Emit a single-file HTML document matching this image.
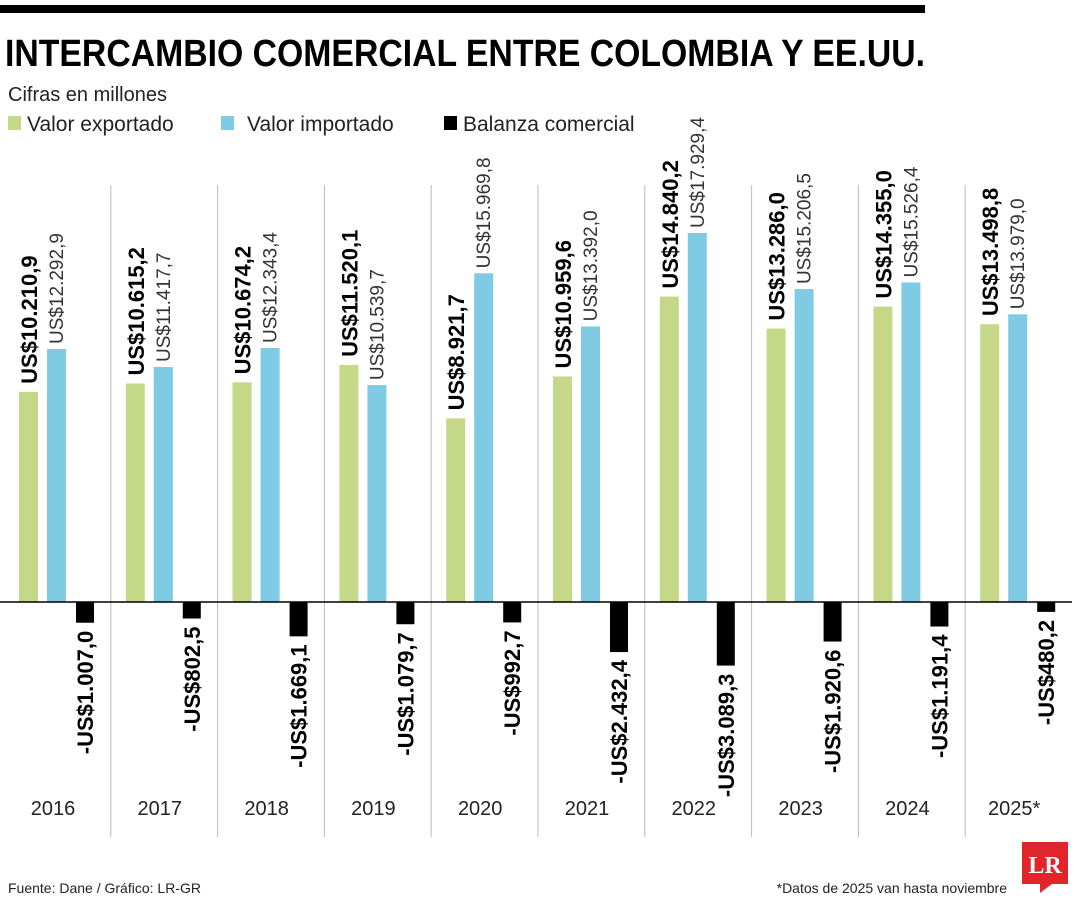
<!DOCTYPE html>
<html><head><meta charset="utf-8"><style>
html,body{margin:0;padding:0;background:#fff}
svg{display:block;font-family:"Liberation Sans",sans-serif}
</style></head><body>
<svg id="chart" width="1080" height="900" viewBox="0 0 1080 900">
<rect x="0" y="5" width="925" height="8" fill="#000"/>
<text x="5" y="66" font-size="38" font-weight="bold" textLength="920" lengthAdjust="spacingAndGlyphs">INTERCAMBIO COMERCIAL ENTRE COLOMBIA Y EE.UU.</text>
<text x="8" y="101" font-size="20" fill="#222">Cifras en millones</text>
<g>
<rect x="8" y="116" width="13" height="14" fill="#c5d887"/>
<text x="27" y="131" font-size="21" fill="#222">Valor exportado</text>
<rect x="221" y="116" width="13" height="14" fill="#7ecbe3"/>
<text x="247" y="131" font-size="21" fill="#222">Valor importado</text>
<rect x="444" y="116" width="13" height="14" fill="#000"/>
<text x="463" y="131" font-size="21" fill="#222">Balanza comercial</text>
</g>
<g id="plot"></g>
<text x="8" y="893" font-size="14" fill="#222">Fuente: Dane / Gráfico: LR-GR</text>
<text x="1007" y="893" font-size="14" fill="#222" text-anchor="end">*Datos de 2025 van hasta noviembre</text>
<g>
<rect x="1022" y="842" width="46" height="42" fill="#e0262b"/>
<polygon points="1040,884 1052,884 1040,893" fill="#e0262b"/>
<text x="1045" y="873" font-size="24" font-weight="bold" fill="#fff" text-anchor="middle" font-family="Liberation Serif,serif">LR</text>
</g>
</svg>
<script>
const years = ["2016","2017","2018","2019","2020","2021","2022","2023","2024","2025*"];
const exportsV = [10210.9,10615.2,10674.2,11520.1,8921.7,10959.6,14840.2,13286.0,14355.0,13498.8];
const importsV = [12292.9,11417.7,12343.4,10539.7,15969.8,13392.0,17929.4,15206.5,15526.4,13979.0];
const balanceV = [-1007.0,-802.5,-1669.1,-1079.7,-992.7,-2432.4,-3089.3,-1920.6,-1191.4,-480.2];
const exportLabels = ["US$10.210,9","US$10.615,2","US$10.674,2","US$11.520,1","US$8.921,7","US$10.959,6","US$14.840,2","US$13.286,0","US$14.355,0","US$13.498,8"];
const importLabels = ["US$12.292,9","US$11.417,7","US$12.343,4","US$10.539,7","US$15.969,8","US$13.392,0","US$17.929,4","US$15.206,5","US$15.526,4","US$13.979,0"];
const balanceLabels = ["-US$1.007,0","-US$802,5","-US$1.669,1","-US$1.079,7","-US$992,7","-US$2.432,4","-US$3.089,3","-US$1.920,6","-US$1.191,4","-US$480,2"];

const NS="http://www.w3.org/2000/svg";
const plot=document.getElementById('plot');
const base=602, k=369/17929.4;
const y=v=>base - v*k;
const gx=i=>4+106.8*i;
function mk(tag,attrs){const e=document.createElementNS(NS,tag);for(const a in attrs)e.setAttribute(a,attrs[a]);plot.appendChild(e);return e;}
for(let i=1;i<years.length;i++){
  const l=mk('line',{x1:gx(i),x2:gx(i),y1:185,y2:837,stroke:'#bbb','stroke-width':1});
  
  
}
years.forEach((yr,i)=>{
  const x0=gx(i);
  const ex=x0+15, ix=x0+43, bx=x0+72;
  const r1=mk('rect',{x:ex,y:y(exportsV[i]),width:19,height:base-y(exportsV[i]),fill:'#c5d887'});
  
  
  const r2=mk('rect',{x:ix,y:y(importsV[i]),width:19,height:base-y(importsV[i]),fill:'#7ecbe3'});
  
  
  const r3=mk('rect',{x:bx,y:base,width:18,height:y(balanceV[i])-base,fill:'#000'});
  
  
  let t=mk('text',{transform:`translate(${ex+18},${y(exportsV[i])-8}) rotate(-90)`,'font-size':22,'font-weight':'bold',fill:'#000'});
  t.textContent=exportLabels[i];
  
  
  t=mk('text',{transform:`translate(${ix+16},${y(importsV[i])-5}) rotate(-90)`,'font-size':19,fill:'#333'});
  t.textContent=importLabels[i];
  
  
  t=mk('text',{transform:`translate(${bx+17},${y(balanceV[i])+8}) rotate(-90)`,'font-size':22,'font-weight':'bold',fill:'#000','text-anchor':'end'});
  t.textContent=balanceLabels[i];
  
  
  t=mk('text',{x:x0+49,y:815,'font-size':20,fill:'#222','text-anchor':'middle'});
  t.textContent=yr;
  
  
});
const ax=mk('line',{x1:0,x2:1072,y1:base,y2:base,stroke:'#000','stroke-width':1.5});


</script>
</body></html>
